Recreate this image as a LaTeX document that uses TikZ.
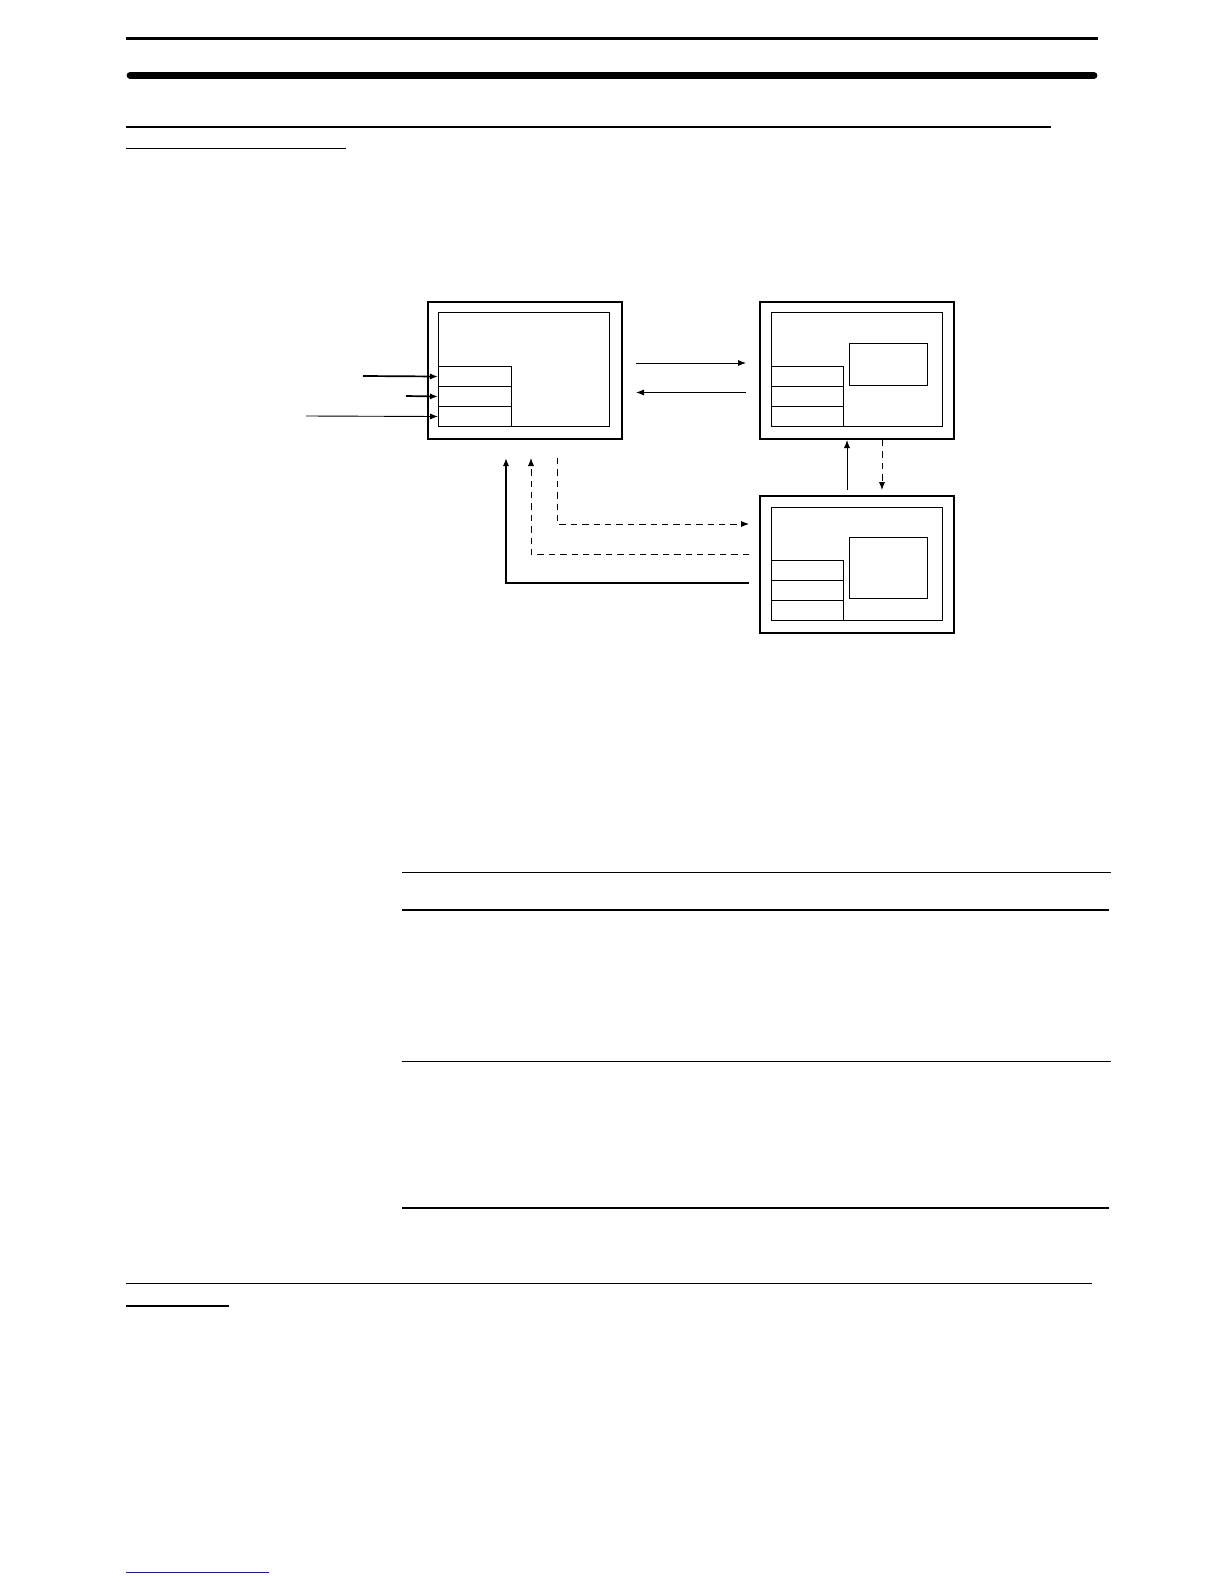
\documentclass[tikz,border=0pt]{standalone}
\usepackage{tikz}
\usetikzlibrary{arrows.meta,positioning}
\definecolor{footblue}{RGB}{28,28,140}

\begin{document}
\begin{tikzpicture}[x=0.5pt,y=-0.5pt,>={Latex[length=4pt,width=3.1pt]}]
    \tikzset{frame/.style={draw,line width=1.1pt,inner sep=0pt,anchor=north west}}
    \tikzset{panel/.style={draw,line width=0.5pt,inner sep=0pt,anchor=north west}}
    \tikzset{slot/.style={panel,minimum width=36pt,minimum height=10pt}}
    \tikzset{rule/.style={line width=0.75pt}}
    \tikzset{link/.style={->,line width=0.45pt}}
    \tikzset{boldlink/.style={->,line width=0.85pt}}
    \tikzset{dashlink/.style={->,line width=0.5pt,dash pattern=on 3.2pt off 2.5pt}}
    \useasboundingbox (0,0) rectangle (1224,1584);

    % Page rules
    \draw[line width=1.2pt] (126,38.5) -- (1098,38.5);
    \draw[line width=3.4pt,line cap=round] (130,75.5) -- (1094,75.5);
    \draw[rule] (126,127) -- (1051,127);
    \draw[rule] (126,148.5) -- (346,148.5);

    % Unit A
    \node[frame,minimum width=97pt,minimum height=68.5pt] (outA) at (427,301) {};
    \node[panel,minimum width=85.5pt,minimum height=57pt] (inA) at (438,312) {};
    \node[slot,minimum width=36.5pt] (slotA1) at (438,366) {};
    \node[slot,minimum width=36.5pt] (slotA2) at (438,386) {};
    \node[slot,minimum width=36.5pt] (slotA3) at (438,406) {};

    % Unit B
    \node[frame,minimum width=97pt,minimum height=68.5pt] (outB) at (759,301) {};
    \node[panel,minimum width=85.5pt,minimum height=57pt] (inB) at (771,312) {};
    \node[slot] (slotB1) at (771,366) {};
    \node[slot] (slotB2) at (771,386) {};
    \node[slot] (slotB3) at (771,406) {};
    \node[panel,minimum width=39pt,minimum height=21pt] (winB) at (849,343) {};

    % Unit C
    \node[frame,minimum width=97pt,minimum height=68.5pt] (outC) at (759,495) {};
    \node[panel,minimum width=85.5pt,minimum height=56.5pt] (inC) at (771,507) {};
    \node[slot] (slotC1) at (771,560) {};
    \node[slot] (slotC2) at (771,580) {};
    \node[slot] (slotC3) at (771,600) {};
    \node[panel,minimum width=39pt,minimum height=30.5pt] (winC) at (849,537) {};

    % Inputs to A
    \coordinate (src1) at (363,376);
    \coordinate (src2) at (406,396);
    \coordinate (src3) at (306,416);
    \draw[boldlink] (src1) -- (slotA1.west);
    \draw[boldlink] (src2) -- (slotA2.west);
    \draw[link] (src3) -- (slotA3.west);

    % A <-> B
    \coordinate (ab1) at (636,363);
    \coordinate (ab2) at (746,363);
    \coordinate (ba1) at (746,392.5);
    \coordinate (ba2) at (636,392.5);
    \draw[link] (ab1) -- (ab2);
    \draw[link] (ba1) -- (ba2);

    % B <-> C
    \coordinate (cb1) at (847,490);
    \coordinate (cb2) at (847,440);
    \coordinate (bc1) at (882,440);
    \coordinate (bc2) at (882,490);
    \draw[link] (cb1) -- (cb2);
    \draw[dashlink] (bc1) -- (bc2);

    % C <-> A
    \coordinate (ca1) at (749,583);
    \coordinate (ca2) at (506,458);
    \coordinate (cd1) at (749,554);
    \coordinate (cd2) at (531,458);
    \coordinate (ac1) at (557,458);
    \coordinate (ac2) at (749,524);
    \draw[boldlink] (ca1) -| (ca2);
    \draw[dashlink] (cd1) -| (cd2);
    \draw[dashlink] (ac1) |- (ac2);

    % Table rules
    \draw[rule] (402,872.5) -- (1111,872.5);
    \draw[rule] (402,910) -- (1109,910);
    \draw[rule] (402,1061.5) -- (1111,1061.5);
    \draw[rule] (402,1208) -- (1109,1208);

    % Lower rules
    \draw[rule] (126,1283.5) -- (1092,1283.5);
    \draw[rule] (126,1306) -- (229,1306);
    \draw[rule,footblue] (126,1572.5) -- (269,1572.5);
\end{tikzpicture}
\end{document}
